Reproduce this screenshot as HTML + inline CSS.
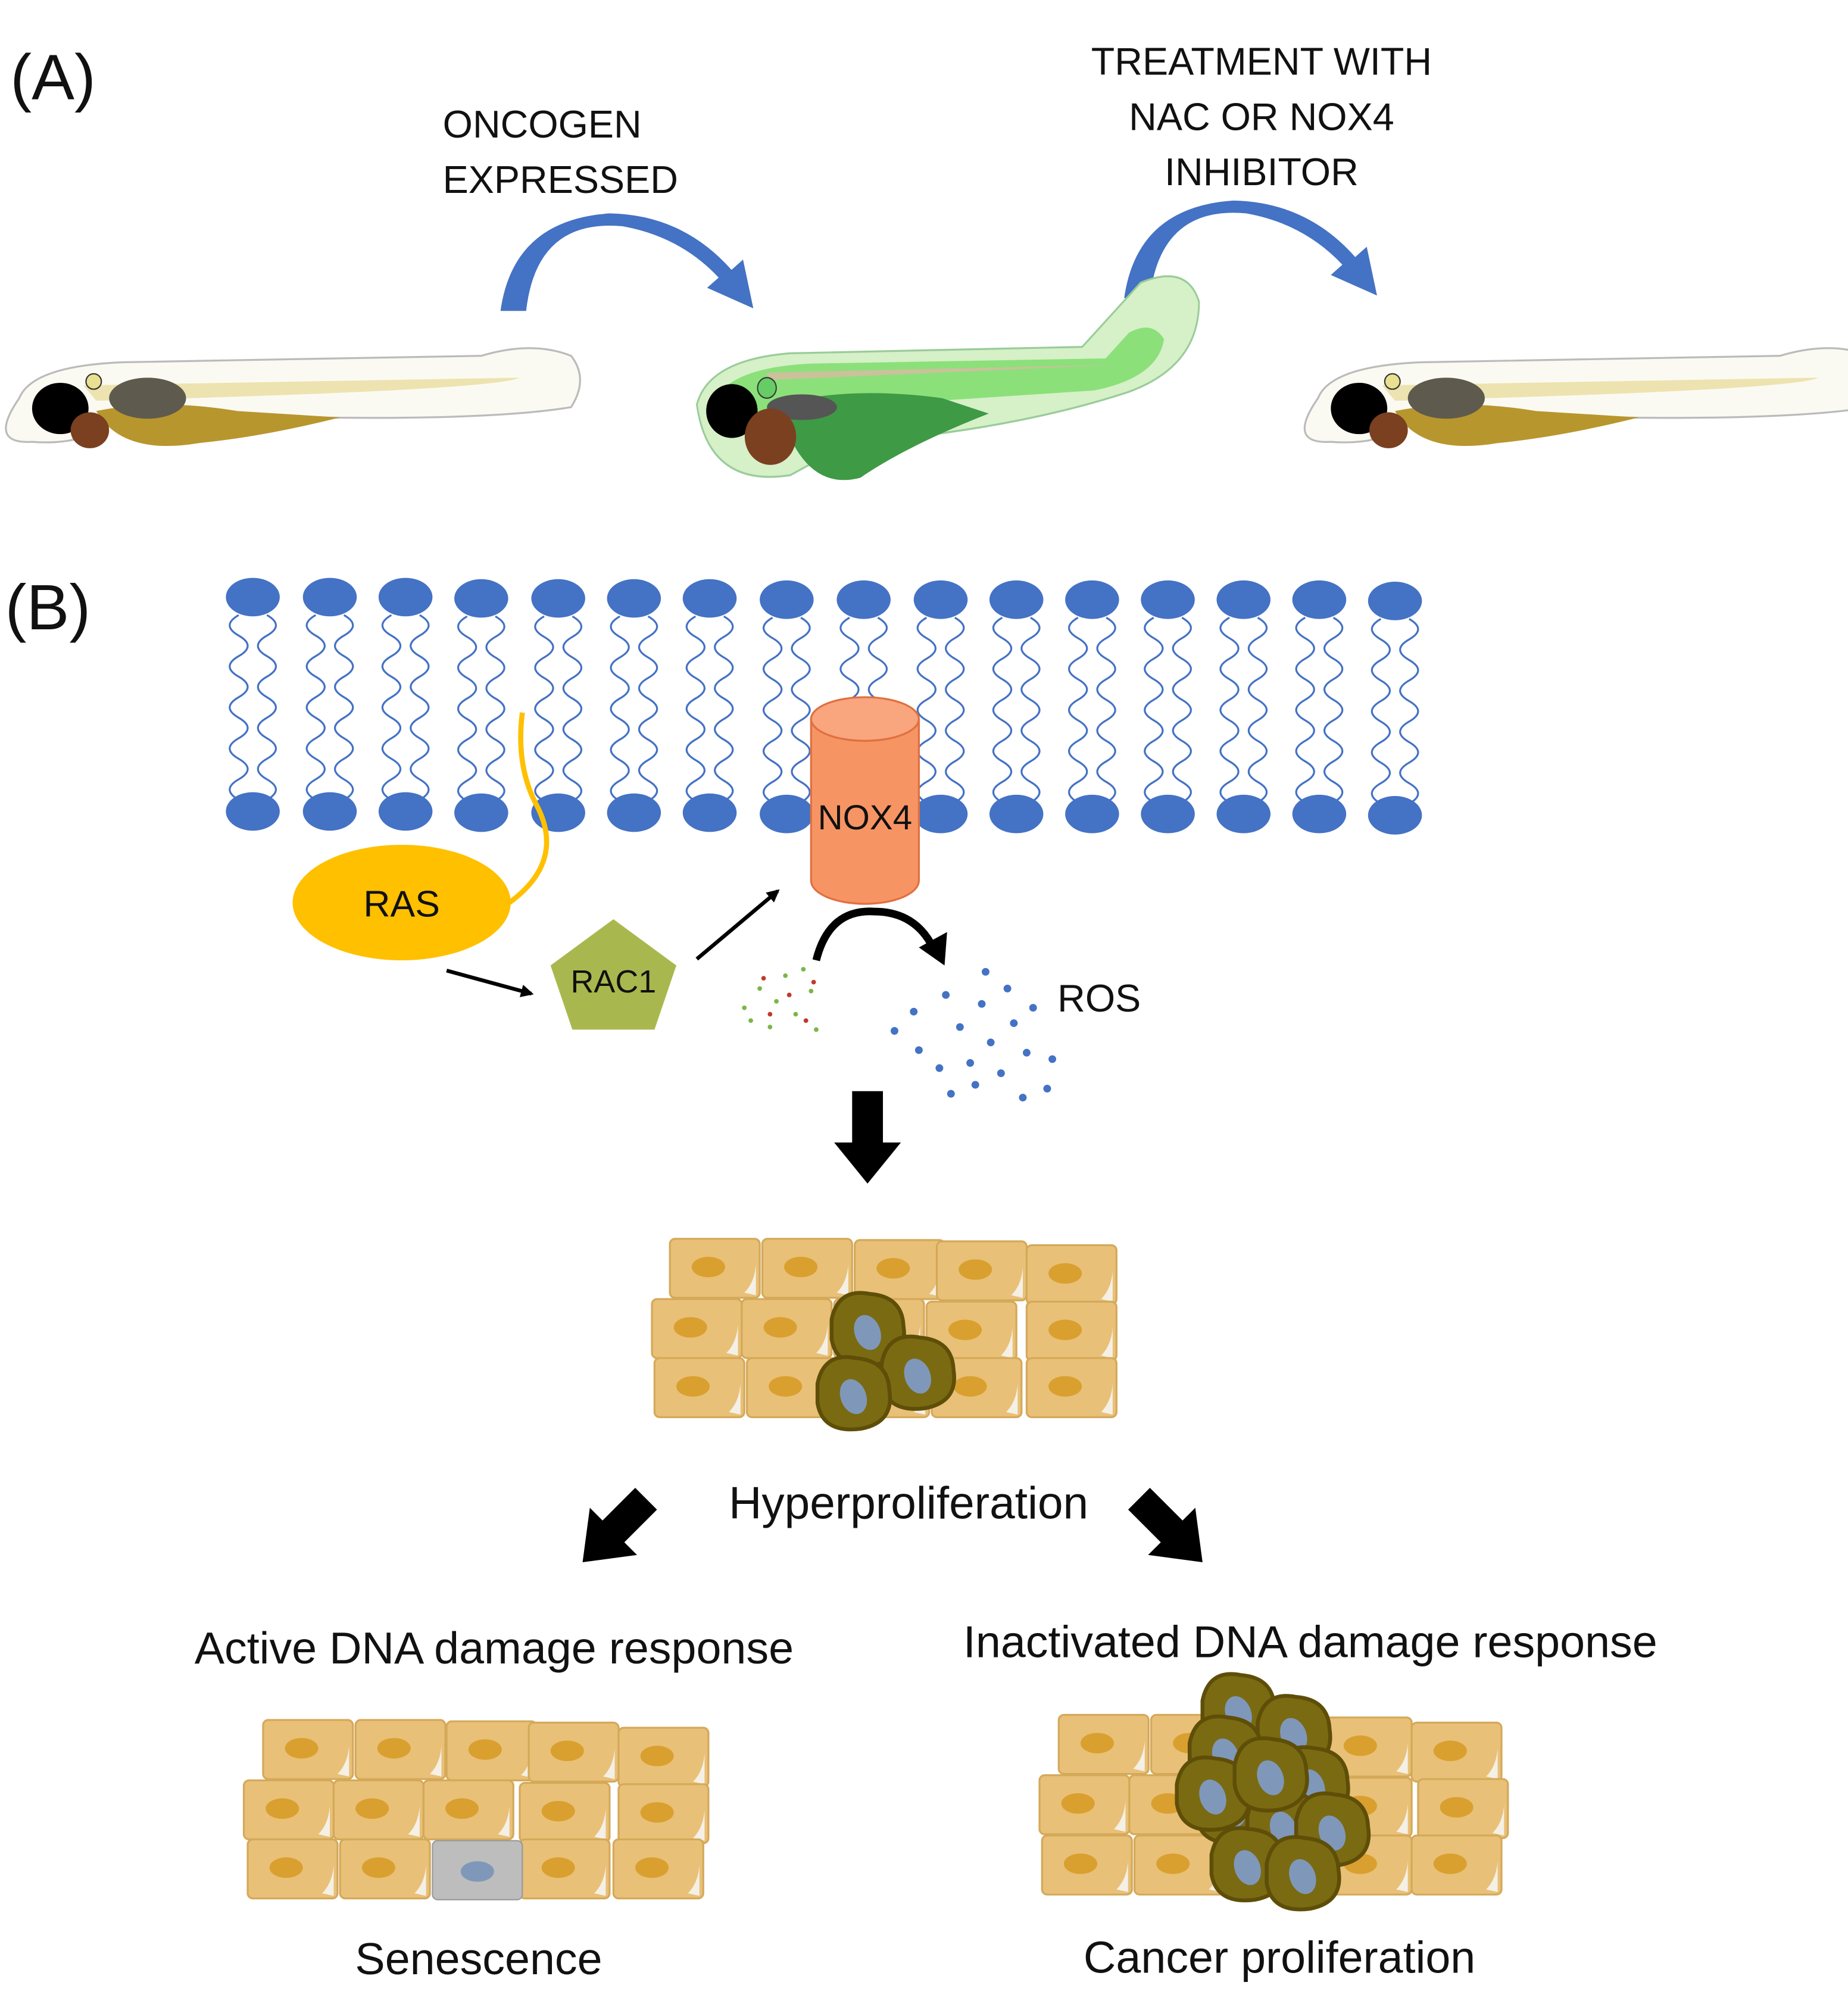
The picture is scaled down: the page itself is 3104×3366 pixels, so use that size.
<!DOCTYPE html>
<html><head><meta charset="utf-8"><style>
html,body{margin:0;padding:0;background:#fff}
svg{display:block}
text{font-family:"Liberation Sans",sans-serif;fill:#111}
</style></head><body>
<svg width="3104" height="3366" viewBox="0 0 1440 1561" xmlns="http://www.w3.org/2000/svg">
<defs>
<g id="lipid">
<ellipse cx="0" cy="0" rx="21" ry="15" fill="#4472C4"/>
<path d="M-11 14 q-14 8 0 16 t0 16 t0 16 t0 16 t0 16 t0 16 t0 16 t0 16 t0 16 t0 16" fill="none" stroke="#4472C4" stroke-width="1.5"/>
<path d="M11 14 q14 8 0 16 t0 16 t0 16 t0 16 t0 16 t0 16 t0 16 t0 16 t0 16 t0 16" fill="none" stroke="#4472C4" stroke-width="1.5"/>
<ellipse cx="0" cy="167" rx="21" ry="15" fill="#4472C4"/>
</g>
<g id="cell">
<rect x="0" y="0" width="70" height="46" rx="4" fill="#E9C077" stroke="#D4A95A" stroke-width="1.5"/>
<path d="M58 42 q8 -8 9 -22 l0 24 z" fill="#F4F0E6"/>
<ellipse cx="30" cy="22" rx="13" ry="8" fill="#D9A030"/>
</g>
<g id="dark">
<path d="M-28 -10 q5 -25 30 -20 q25 2 26 25 q4 25 -22 30 q-30 4 -34 -20z" fill="#7A6A12" stroke="#5E4E08" stroke-width="3"/>
<ellipse cx="0" cy="0" rx="10" ry="14" fill="#7F98BA" transform="rotate(-20)"/>
</g>
<g id="fish">
<path d="M0 40 q10 -25 80 -28 l280 -5 q40 -12 70 0 q14 18 0 40 q-60 10 -200 8 l-160 4 q-20 18 -60 15 q-35 2 -10 -34z" fill="#FBFAF2" stroke="#bbb" stroke-width="1.5"/>
<path d="M50 30 l340 -6 q-20 10 -330 18z" fill="#EDE3B0"/>
<path d="M60 50 q50 -10 110 0 l80 5 q-60 15 -110 20 q-60 10 -80 -25z" fill="#B8962E"/>
<ellipse cx="100" cy="40" rx="30" ry="16" fill="#5E5A4E"/>
<ellipse cx="32" cy="48" rx="22" ry="20" fill="#000"/>
<ellipse cx="55" cy="65" rx="15" ry="14" fill="#7A4020"/>
<circle cx="58" cy="27" r="6" fill="#E9E090" stroke="#333"/>
</g>
<marker id="ah" markerWidth="10" markerHeight="10" refX="8" refY="5" orient="auto" markerUnits="userSpaceOnUse"><path d="M0 0 L10 5 L0 10z" fill="#000"/></marker>
</defs>

<text x="8" y="77" font-size="50">(A)</text>
<text x="4" y="490" font-size="50">(B)</text>

<text x="345" y="107" font-size="30">ONCOGEN</text>
<text x="345" y="150" font-size="30">EXPRESSED</text>
<text x="983" y="58" font-size="30" text-anchor="middle">TREATMENT WITH</text>
<text x="983" y="101" font-size="30" text-anchor="middle">NAC OR NOX4</text>
<text x="983" y="144" font-size="30" text-anchor="middle">INHIBITOR</text>

<path d="M410 242 q8 -72 75 -66 q45 8 75 40 l-9 8 l36 16 l-8 -38 l-9 8 q-38 -43 -95 -44 q-75 5 -85 76z" fill="#4472C4"/>
<path d="M896 232 q8 -72 75 -66 q45 8 75 40 l-9 8 l36 16 l-8 -38 l-9 8 q-38 -43 -95 -44 q-75 5 -85 76z" fill="#4472C4"/>

<use href="#fish" x="15" y="270"/>
<use href="#fish" x="1027" y="270"/>
<g transform="translate(543,245) scale(0.91,1)">
<path d="M0 70 q10 -35 80 -40 l250 -5 q40 -40 50 -50 q40 -15 50 15 q0 50 -60 70 q-100 30 -240 40 l-50 25 q-70 10 -80 -55z" fill="#D6F0C8" stroke="#9c9" stroke-width="1.5"/>
<path d="M20 60 q20 -20 80 -22 l250 -4 l20 -20 q20 -10 30 5 q-5 30 -60 40 l-250 15 q-60 8 -70 -14z" fill="#8BE07A"/>
<path d="M60 45 l300 -6 l-300 12z" fill="#C9C29A"/>
<path d="M70 70 q60 -15 140 -5 l40 12 q-70 25 -110 50 q-50 12 -70 -57z" fill="#3F9A45"/>
<ellipse cx="90" cy="72" rx="30" ry="10" fill="#555"/>
<ellipse cx="30" cy="75" rx="22" ry="21" fill="#000"/>
<ellipse cx="63" cy="95" rx="22" ry="22" fill="#7A4020"/>
<circle cx="60" cy="57" r="8" fill="#6C6" stroke="#333"/>
</g>

<g>
<use href="#lipid" x="197" y="465"/><use href="#lipid" x="257" y="465"/><use href="#lipid" x="316" y="465"/><use href="#lipid" x="375" y="466"/>
<use href="#lipid" x="435" y="466"/><use href="#lipid" x="494" y="466"/><use href="#lipid" x="553" y="466"/><use href="#lipid" x="613" y="467"/>
<use href="#lipid" x="673" y="467"/><use href="#lipid" x="733" y="467"/><use href="#lipid" x="792" y="467"/><use href="#lipid" x="851" y="467"/>
<use href="#lipid" x="910" y="467"/><use href="#lipid" x="969" y="467"/><use href="#lipid" x="1028" y="467"/><use href="#lipid" x="1087" y="468"/>
</g>
<path d="M632 560 v126 a42 18 0 0 0 84 0 v-126z" fill="#F79464" stroke="#E07040" stroke-width="1.5"/>
<ellipse cx="674" cy="560" rx="42" ry="17" fill="#F9A57E" stroke="#E07040" stroke-width="1.5"/>
<text x="674" y="646" font-size="27" text-anchor="middle">NOX4</text>
<path d="M407 555 q-5 40 10 70 q25 45 -20 78" fill="none" stroke="#FFC000" stroke-width="4"/>
<ellipse cx="313" cy="703" rx="85" ry="45" fill="#FFC000"/>
<text x="313" y="714" font-size="29" text-anchor="middle">RAS</text>
<polygon points="478,716 527,752 510,802 446,802 429,752" fill="#A9B84E"/>
<text x="478" y="773" font-size="25" text-anchor="middle">RAC1</text>
<line x1="348" y1="756" x2="414" y2="774" stroke="#000" stroke-width="3" marker-end="url(#ah)"/>
<line x1="543" y1="747" x2="606" y2="694" stroke="#000" stroke-width="3" marker-end="url(#ah)"/>
<path d="M636 748 q10 -40 45 -38 q32 0 46 28" fill="none" stroke="#000" stroke-width="6"/>
<path d="M716 738 l20 14 l2 -26z" fill="#000"/>
<g fill="#7AB648">
<circle cx="580" cy="785" r="1.8"/><circle cx="592" cy="770" r="1.8"/><circle cx="600" cy="800" r="1.8"/><circle cx="612" cy="760" r="1.8"/><circle cx="620" cy="790" r="1.8"/><circle cx="632" cy="772" r="1.8"/><circle cx="636" cy="802" r="1.8"/><circle cx="605" cy="780" r="1.8"/><circle cx="585" cy="795" r="1.8"/><circle cx="626" cy="755" r="1.8"/></g>
<g fill="#C0392B"><circle cx="595" cy="762" r="1.8"/><circle cx="615" cy="775" r="1.8"/><circle cx="628" cy="795" r="1.8"/><circle cx="600" cy="790" r="1.8"/><circle cx="634" cy="765" r="1.8"/></g>
<g fill="#4472C4">
<circle cx="697" cy="803" r="3"/><circle cx="712" cy="788" r="3"/><circle cx="716" cy="818" r="3"/><circle cx="737" cy="775" r="3"/><circle cx="741" cy="852" r="3"/><circle cx="748" cy="800" r="3"/><circle cx="756" cy="828" r="3"/><circle cx="768" cy="757" r="3"/><circle cx="765" cy="782" r="3"/><circle cx="772" cy="812" r="3"/><circle cx="780" cy="836" r="3"/><circle cx="785" cy="770" r="3"/><circle cx="790" cy="797" r="3"/><circle cx="797" cy="855" r="3"/><circle cx="800" cy="820" r="3"/><circle cx="805" cy="785" r="3"/><circle cx="816" cy="848" r="3"/><circle cx="820" cy="825" r="3"/><circle cx="760" cy="845" r="3"/><circle cx="732" cy="832" r="3"/>
</g>
<text x="824" y="788" font-size="30">ROS</text>
<path d="M664 850 h24 v40 h14 l-26 32 l-26 -32 h14z" fill="#000"/>

<g>
<use href="#cell" x="522" y="965"/><use href="#cell" x="594" y="965"/><use href="#cell" x="666" y="966"/><use href="#cell" x="730" y="967"/><use href="#cell" x="800" y="970"/>
<use href="#cell" x="508" y="1012"/><use href="#cell" x="578" y="1012"/><use href="#cell" x="650" y="1012"/><use href="#cell" x="722" y="1014"/><use href="#cell" x="800" y="1014"/>
<use href="#cell" x="510" y="1058"/><use href="#cell" x="582" y="1058"/><use href="#cell" x="654" y="1058"/><use href="#cell" x="726" y="1058"/><use href="#cell" x="800" y="1058"/>
<use href="#dark" x="676" y="1038"/><use href="#dark" x="715" y="1072"/><use href="#dark" x="665" y="1088"/>
</g>
<text x="708" y="1183" font-size="35.5" text-anchor="middle">Hyperproliferation</text>
<g transform="translate(478,1193) rotate(45)"><path d="M-12 -36 h24 v36 h14 l-26 34 l-26 -34 h14z" fill="#000"/></g>
<g transform="translate(913,1193) rotate(-45)"><path d="M-12 -36 h24 v36 h14 l-26 34 l-26 -34 h14z" fill="#000"/></g>

<text x="385" y="1296" font-size="35" text-anchor="middle">Active DNA damage response</text>
<text x="1021" y="1291" font-size="35" text-anchor="middle">Inactivated DNA damage response</text>

<g>
<use href="#cell" x="205" y="1340"/><use href="#cell" x="277" y="1340"/><use href="#cell" x="348" y="1341"/><use href="#cell" x="412" y="1342"/><use href="#cell" x="482" y="1346"/>
<use href="#cell" x="190" y="1387"/><use href="#cell" x="260" y="1387"/><use href="#cell" x="330" y="1387"/><use href="#cell" x="405" y="1389"/><use href="#cell" x="482" y="1390"/>
<use href="#cell" x="193" y="1433"/><use href="#cell" x="265" y="1433"/><use href="#cell" x="405" y="1433"/><use href="#cell" x="478" y="1433"/>
<rect x="337" y="1434" width="70" height="46" rx="4" fill="#BDBDBD" stroke="#999"/>
<ellipse cx="372" cy="1458" rx="13" ry="8" fill="#7F98BA"/>
</g>
<text x="373" y="1538" font-size="35" text-anchor="middle">Senescence</text>

<g>
<use href="#cell" x="825" y="1336"/><use href="#cell" x="897" y="1336"/><use href="#cell" x="1030" y="1338"/><use href="#cell" x="1100" y="1342"/>
<use href="#cell" x="810" y="1383"/><use href="#cell" x="880" y="1383"/><use href="#cell" x="1030" y="1385"/><use href="#cell" x="1105" y="1386"/>
<use href="#cell" x="812" y="1430"/><use href="#cell" x="884" y="1430"/><use href="#cell" x="1030" y="1430"/><use href="#cell" x="1100" y="1430"/>
<use href="#dark" x="965" y="1335"/><use href="#dark" x="1008" y="1352"/><use href="#dark" x="955" y="1368"/><use href="#dark" x="1022" y="1392"/>
<use href="#dark" x="960" y="1410"/><use href="#dark" x="1000" y="1425"/><use href="#dark" x="1038" y="1428"/><use href="#dark" x="972" y="1455"/>
<use href="#dark" x="1015" y="1462"/><use href="#dark" x="945" y="1400"/><use href="#dark" x="990" y="1385"/>
</g>
<text x="997" y="1537" font-size="35" text-anchor="middle">Cancer proliferation</text>
</svg>
</body></html>
